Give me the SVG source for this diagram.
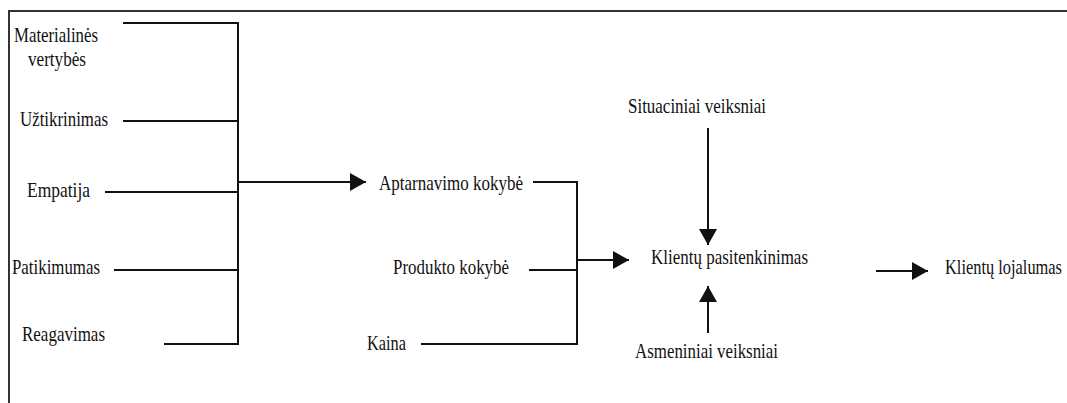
<svg xmlns="http://www.w3.org/2000/svg" width="1067" height="403" viewBox="0 0 1067 403">
<style>
.t{font-family:"Liberation Serif","Times New Roman",serif;font-size:22px;fill:#111}
.c{stroke:#111;stroke-width:2;fill:none}
.a{stroke:#111;stroke-width:2;fill:none;marker-end:url(#ah)}
</style>
<defs>
<marker id="ah" markerUnits="userSpaceOnUse" markerWidth="18" markerHeight="20" refX="16" refY="9" orient="auto">
<path d="M0,0 L16,9 L0,18 Z" fill="#111"/>
</marker>
</defs>
<rect width="1067" height="403" fill="#fff"/>
<path d="M9,403 V11 H1067" stroke="#333" stroke-width="2" fill="none"/>
<g id="n-materialines"><text class="t" x="14" y="42" textLength="84" lengthAdjust="spacingAndGlyphs">Materialinės</text><text class="t" x="28" y="66" textLength="58" lengthAdjust="spacingAndGlyphs">vertybės</text></g>
<g id="n-uztikrinimas"><text class="t" x="20" y="126" textLength="88" lengthAdjust="spacingAndGlyphs">Užtikrinimas</text></g>
<g id="n-empatija"><text class="t" x="27" y="197" textLength="63" lengthAdjust="spacingAndGlyphs">Empatija</text></g>
<g id="n-patikimumas"><text class="t" x="12" y="274" textLength="88" lengthAdjust="spacingAndGlyphs">Patikimumas</text></g>
<g id="n-reagavimas"><text class="t" x="22" y="341" textLength="83" lengthAdjust="spacingAndGlyphs">Reagavimas</text></g>
<g id="n-aptarnavimo"><text class="t" x="379" y="190" textLength="144" lengthAdjust="spacingAndGlyphs">Aptarnavimo kokybė</text></g>
<g id="n-produkto"><text class="t" x="393" y="274" textLength="116" lengthAdjust="spacingAndGlyphs">Produkto kokybė</text></g>
<g id="n-kaina"><text class="t" x="367" y="350" textLength="39" lengthAdjust="spacingAndGlyphs">Kaina</text></g>
<g id="n-situaciniai"><text class="t" x="628" y="113" textLength="138" lengthAdjust="spacingAndGlyphs">Situaciniai veiksniai</text></g>
<g id="n-pasitenkinimas"><text class="t" x="651" y="264" textLength="157" lengthAdjust="spacingAndGlyphs">Klientų pasitenkinimas</text></g>
<g id="n-asmeniniai"><text class="t" x="635" y="358" textLength="143" lengthAdjust="spacingAndGlyphs">Asmeniniai veiksniai</text></g>
<g id="n-lojalumas"><text class="t" style="font-size:16.4px" transform="translate(945,274) scale(1,1.34)" x="0" y="0">Klientų lojalumas</text></g>
<g id="connectors">
<path class="c" d="M123,23 H238 V344 H164 M123,121 H238 M105,192 H238 M114,270 H238"/>
<path class="a" d="M238,182 H366"/>
<path class="c" d="M533,182 H577 V344 H421 M529,270 H577"/>
<path class="a" d="M577,260 H629"/>
<path class="a" d="M708,128 V245"/>
<path class="a" d="M708,333 V286"/>
<path class="a" d="M876,271 H928"/>
</g>
</svg>
